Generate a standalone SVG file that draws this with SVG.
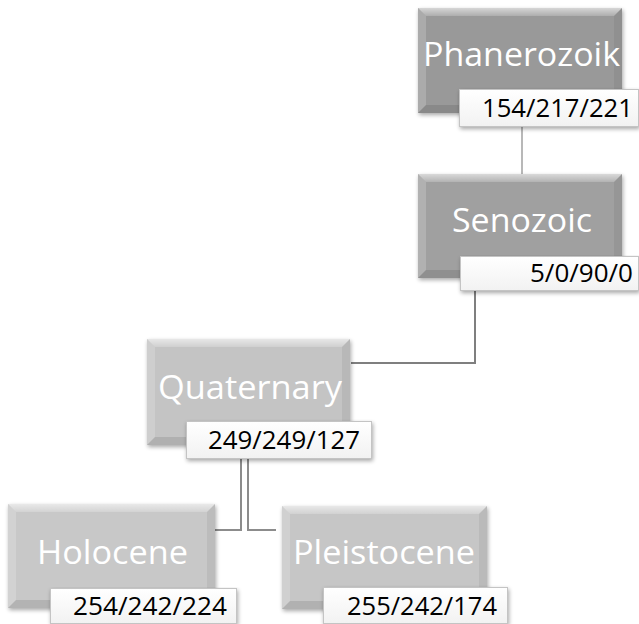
<svg xmlns="http://www.w3.org/2000/svg" width="639" height="624" viewBox="0 0 639 624">
<defs>
<filter id="sh" x="-10%" y="-10%" width="125%" height="130%">
<feGaussianBlur in="SourceAlpha" stdDeviation="2"/>
<feOffset dx="1" dy="2" result="b"/>
<feComponentTransfer><feFuncA type="linear" slope="0.35"/></feComponentTransfer>
<feMerge><feMergeNode/><feMergeNode in="SourceGraphic"/></feMerge>
</filter>
<linearGradient id="lab" x1="0" y1="0" x2="0" y2="1">
<stop offset="0" stop-color="#ffffff"/>
<stop offset="1" stop-color="#f2f2f2"/>
</linearGradient>
<linearGradient id="topb" x1="0" y1="0" x2="0" y2="1">
<stop offset="0" stop-color="#ffffff" stop-opacity="0.6"/>
<stop offset="1" stop-color="#ffffff" stop-opacity="0.2"/>
</linearGradient>
</defs>
<style>
.box{stroke:none}
.bt{fill:url(#topb)}
.bl{fill:#ffffff;fill-opacity:0.18}
.br{fill:#000000;fill-opacity:0.06}
.bb{fill:#000000;fill-opacity:0.10}
.lab{fill:url(#lab);stroke:#c4c4c4;stroke-width:1}
.t{font-family:"Open Sans","Liberation Sans",Arial,sans-serif;font-size:33px;fill:#ffffff}
.n{font-family:"Open Sans","Liberation Sans",Arial,sans-serif;font-size:25px;fill:#000000}
.c{fill:none;stroke-width:2}
</style>
<g id="connectors">
<path class="c" stroke="#b8b8b8" d="M522,127 V174"/>
<path class="c" stroke="#7f7f7f" d="M475,291 V363 H351"/>
<path class="c" stroke="#8c8c8c" d="M241,459 V530 H215"/>
<path class="c" stroke="#8c8c8c" d="M248,459 V530 H276"/>
</g>
<g id="phanerozoik">
<g filter="url(#sh)">
<rect class="box" x="418" y="8" width="204" height="105" fill="#999999"/>
<polygon class="bt" points="418,8 622,8 614,16 426,16"/>
<polygon class="bl" points="418,8 426,16 426,105 418,113"/>
<polygon class="br" points="622,8 622,113 614,105 614,16"/>
<polygon class="bb" points="418,113 426,105 614,105 622,113"/>
</g>
<text class="t" x="423" y="66" textLength="197" lengthAdjust="spacingAndGlyphs">Phanerozoik</text>
<rect class="lab" x="459.5" y="89.5" width="179" height="37" filter="url(#sh)"/>
<text class="n" x="482" y="117" textLength="151" lengthAdjust="spacingAndGlyphs">154/217/221</text>
</g>
<g id="senozoic">
<g filter="url(#sh)">
<rect class="box" x="418" y="174" width="204" height="104" fill="#a0a0a0"/>
<polygon class="bt" points="418,174 622,174 614,182 426,182"/>
<polygon class="bl" points="418,174 426,182 426,270 418,278"/>
<polygon class="br" points="622,174 622,278 614,270 614,182"/>
<polygon class="bb" points="418,278 426,270 614,270 622,278"/>
</g>
<text class="t" x="452" y="232" textLength="140" lengthAdjust="spacingAndGlyphs">Senozoic</text>
<rect class="lab" x="460.5" y="256.5" width="178" height="34" filter="url(#sh)"/>
<text class="n" x="530" y="282" textLength="103" lengthAdjust="spacingAndGlyphs">5/0/90/0</text>
</g>
<g id="quaternary">
<g filter="url(#sh)">
<rect class="box" x="147" y="339" width="203" height="106" fill="#c4c4c4"/>
<polygon class="bt" points="147,339 350,339 342,347 155,347"/>
<polygon class="bl" points="147,339 155,347 155,437 147,445"/>
<polygon class="br" points="350,339 350,445 342,437 342,347"/>
<polygon class="bb" points="147,445 155,437 342,437 350,445"/>
</g>
<text class="t" x="158" y="399" textLength="184" lengthAdjust="spacingAndGlyphs">Quaternary</text>
<rect class="lab" x="186.5" y="421.5" width="185" height="37" filter="url(#sh)"/>
<text class="n" x="208" y="449" textLength="152" lengthAdjust="spacingAndGlyphs">249/249/127</text>
</g>
<g id="holocene">
<g filter="url(#sh)">
<rect class="box" x="8" y="504" width="207" height="104" fill="#c8c8c8"/>
<polygon class="bt" points="8,504 215,504 207,512 16,512"/>
<polygon class="bl" points="8,504 16,512 16,600 8,608"/>
<polygon class="br" points="215,504 215,608 207,600 207,512"/>
<polygon class="bb" points="8,608 16,600 207,600 215,608"/>
</g>
<text class="t" x="37" y="564" textLength="151" lengthAdjust="spacingAndGlyphs">Holocene</text>
<rect class="lab" x="50.5" y="588.5" width="186" height="35" filter="url(#sh)"/>
<text class="n" x="73" y="615" textLength="154" lengthAdjust="spacingAndGlyphs">254/242/224</text>
</g>
<g id="pleistocene">
<g filter="url(#sh)">
<rect class="box" x="282" y="506" width="205" height="103" fill="#c6c6c6"/>
<polygon class="bt" points="282,506 487,506 479,514 290,514"/>
<polygon class="bl" points="282,506 290,514 290,601 282,609"/>
<polygon class="br" points="487,506 487,609 479,601 479,514"/>
<polygon class="bb" points="282,609 290,601 479,601 487,609"/>
</g>
<text class="t" x="293" y="564" textLength="182" lengthAdjust="spacingAndGlyphs">Pleistocene</text>
<rect class="lab" x="323.5" y="587.5" width="184" height="36" filter="url(#sh)"/>
<text class="n" x="347" y="615" textLength="150" lengthAdjust="spacingAndGlyphs">255/242/174</text>
</g>
</svg>
